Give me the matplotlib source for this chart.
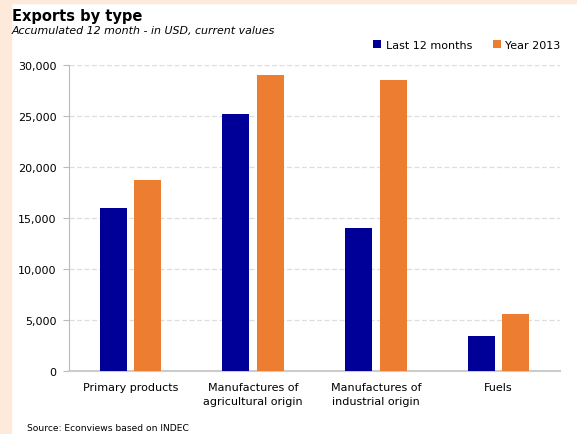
import numpy as np
import matplotlib
matplotlib.use('Agg')
import matplotlib.pyplot as plt
from matplotlib.patches import Rectangle

categories = ['Primary products', 'Manufactures of\nagricultural origin',
              'Manufactures of\nindustrial origin', 'Fuels']
last_12_months = [16000, 25200, 14000, 3400]
year_2013 = [18700, 29000, 28500, 5600]
yticks = [0, 5000, 10000, 15000, 20000, 25000, 30000]

BLUE = '#000099'
ORANGE = '#ED7D31'
PEACH = '#FDEADA'

plt.rcParams['font.family'] = 'DejaVu Sans'

fig = plt.figure(figsize=(5.77, 4.35), dpi=100)
fig.patch.set_facecolor('white')

# peach frame strips on the left and top
fig.patches.append(Rectangle((0, 0), 11 / 577, 1, transform=fig.transFigure,
                             color=PEACH, zorder=0))
fig.patches.append(Rectangle((0, 1 - 4 / 435), 1, 4 / 435, transform=fig.transFigure,
                             color=PEACH, zorder=0))

ax = fig.add_axes([69 / 577, 1 - 372 / 435, (560 - 69) / 577, (372 - 66) / 435])

x = np.arange(len(categories))
w = 0.22
off = 0.14
ax.bar(x - off, last_12_months, w, color=BLUE, label='Last 12 months', zorder=3)
ax.bar(x + off, year_2013, w, color=ORANGE, label='Year 2013', zorder=3)

ax.set_xlim(-0.5, len(categories) - 0.5)
ax.set_ylim(0, 30000)
ax.set_yticks(yticks)
ax.set_yticklabels([f'{v:,}' for v in yticks], fontsize=8)
ax.set_xticks(x)
ax.set_xticklabels(categories, fontsize=8, linespacing=1.45)
ax.tick_params(axis='x', length=0, pad=8)
ax.tick_params(axis='y', length=4, color='#BBBBBB', pad=5)

ax.yaxis.grid(True, linestyle=(0, (4, 2)), color='#DDDDDD', linewidth=0.9, zorder=0)
for s in ['top', 'right']:
    ax.spines[s].set_visible(False)
ax.spines['left'].set_color('#BBBBBB')
ax.spines['bottom'].set_color('#CCCCCC')
ax.spines['bottom'].set_linewidth(1.5)

ax.legend(loc='lower right', bbox_to_anchor=(1.01, 1.035), ncol=2, frameon=False,
          fontsize=8, handlelength=0.7, handleheight=0.7, handletextpad=0.4,
          columnspacing=1.9, borderaxespad=0.0)

fig.text(12 / 577, 1 - 21 / 435, 'Exports by type', fontsize=10.5, fontweight='bold')
fig.text(12 / 577, 1 - 34 / 435, 'Accumulated 12 month - in USD, current values',
         fontsize=7.9, style='italic')
fig.text(27 / 577, 1 - 431 / 435, 'Source: Econviews based on INDEC', fontsize=6.6)

fig.savefig('out.png', dpi=100)
